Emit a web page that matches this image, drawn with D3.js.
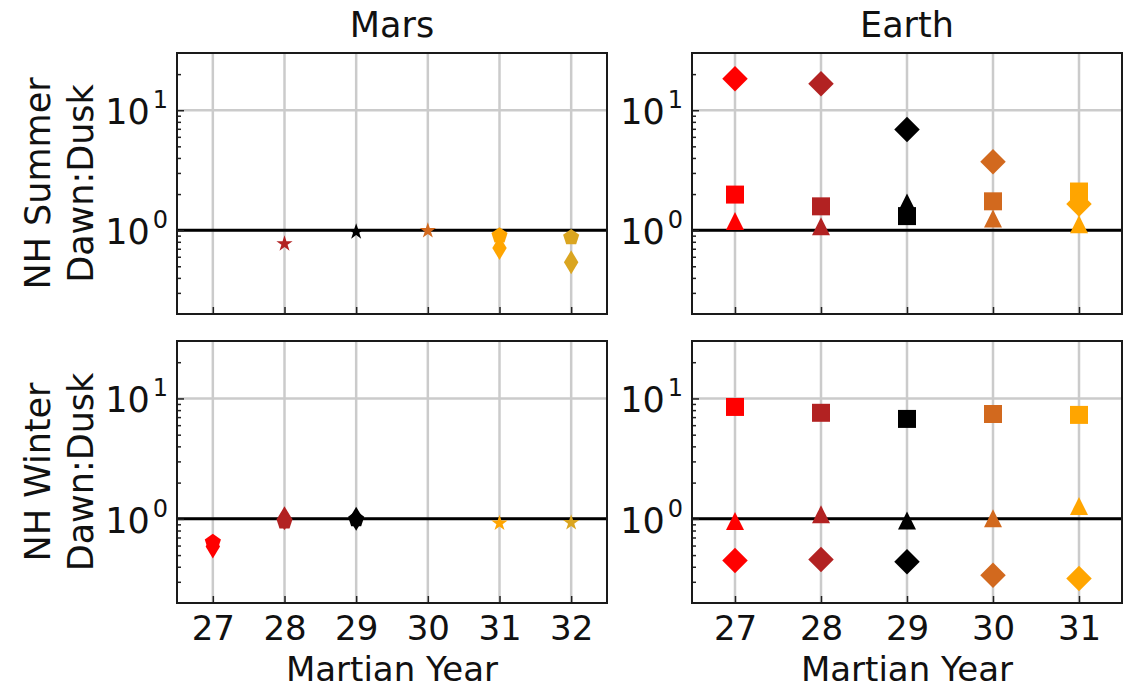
<!DOCTYPE html>
<html>
<head>
<meta charset="utf-8">
<script src="https://cdn.jsdelivr.net/npm/d3@7"></script>
<style>
  html, body { margin: 0; padding: 0; background: #fff; }
  svg { display: block; font-family: "DejaVu Sans", sans-serif; }
</style>
</head>
<body>
<svg id="chart" width="1135" height="690"></svg>
<script>
// Martian years on each column
const marsYears = [27, 28, 29, 30, 31, 32];
const earthYears = [27, 28, 29, 30, 31];
const marsColors = ["#ff0000", "#b22222", "#000000", "#d2691e", "#ffa500", "#daa520"];
const earthColors = ["#ff0000", "#b22222", "#000000", "#d2691e", "#ffa500"];
const yMajorTicks = [1, 10];
const yMinorTicks = [0.3, 0.4, 0.5, 0.6, 0.7, 0.8, 0.9, 2, 3, 4, 5, 6, 7, 8, 9, 20];

// Mars dawn:dusk ratios (null = no observation)
const marsSummerThinDiamond = [null, null, null, null, 0.71, 0.54];
const marsSummerPentagon    = [null, null, null, null, 0.90, 0.87];
const marsSummerStar        = [null, 0.77, 0.97, 0.99, null, null];
const marsWinterThinDiamond = [0.59, 1.01, 1.00, null, null, null];
const marsWinterPentagon    = [0.64, 0.95, 0.99, null, null, null];
const marsWinterStar        = [null, null, null, null, 0.92, 0.93];

// Earth dawn:dusk ratios
const earthSummerTriangle = [1.19, 1.08, 1.70, 1.25, 1.12];
const earthSummerSquare   = [1.98, 1.58, 1.31, 1.74, 2.10];
const earthSummerDiamond  = [18.3, 16.6, 6.9, 3.72, 1.65];
const earthWinterTriangle = [0.96, 1.09, 0.97, 1.01, 1.28];
const earthWinterSquare   = [8.5, 7.6, 6.76, 7.43, 7.3];
const earthWinterDiamond  = [0.45, 0.46, 0.44, 0.34, 0.32];

const svg = d3.select("#chart");

const cols = [
  { x0: 177, x1: 607, domain: [26.5, 32.5], years: marsYears, colors: marsColors, size: 17, title: "Mars" },
  { x0: 692, x1: 1122, domain: [26.5, 31.5], years: earthYears, colors: earthColors, size: 18, title: "Earth" }
];
const rows = [
  { y0: 53, y1: 314, label: ["NH Summer", "Dawn:Dusk"] },
  { y0: 341, y1: 603, label: ["NH Winter", "Dawn:Dusk"] }
];

// series per panel [row][col], drawn in order
const panelSeries = [
  [
    [ { shape: "thin", v: marsSummerThinDiamond }, { shape: "pentagon", v: marsSummerPentagon }, { shape: "star", v: marsSummerStar } ],
    [ { shape: "triangle", v: earthSummerTriangle }, { shape: "square", v: earthSummerSquare }, { shape: "diamond", v: earthSummerDiamond } ]
  ],
  [
    [ { shape: "thin", v: marsWinterThinDiamond }, { shape: "pentagon", v: marsWinterPentagon }, { shape: "star", v: marsWinterStar } ],
    [ { shape: "triangle", v: earthWinterTriangle }, { shape: "square", v: earthWinterSquare }, { shape: "diamond", v: earthWinterDiamond } ]
  ]
];

function polygon(pts) {
  return "M" + pts.map(p => p[0].toFixed(2) + "," + p[1].toFixed(2)).join("L") + "Z";
}

// marker outlines sized like matplotlib markers of width w
function markerPath(shape, w) {
  const h = w / 2;
  const r = w * Math.SQRT1_2;
  switch (shape) {
    case "square":   return polygon([[-h, -h], [h, -h], [h, h], [-h, h]]);
    case "diamond":  return polygon([[0, -r], [r, 0], [0, r], [-r, 0]]);
    case "thin":     return polygon([[0, -r], [0.6 * r, 0], [0, r], [-0.6 * r, 0]]);
    case "triangle": return polygon([[0, -h], [h, h], [-h, h]]);
    case "pentagon": {
      const pts = d3.range(5).map(i => {
        const a = -Math.PI / 2 + i * 2 * Math.PI / 5;
        return [h * Math.cos(a), h * Math.sin(a)];
      });
      return polygon(pts);
    }
    case "star": {
      const pts = d3.range(10).map(i => {
        const a = -Math.PI / 2 + i * Math.PI / 5;
        const rad = i % 2 === 0 ? h : h * 0.381966;
        return [rad * Math.cos(a), rad * Math.sin(a)];
      });
      return polygon(pts);
    }
  }
}

rows.forEach((row, ri) => {
  cols.forEach((col, ci) => {
    const x = d3.scaleLinear().domain(col.domain).range([col.x0, col.x1]);
    const y = d3.scaleLog().domain([0.2, 30]).range([row.y1, row.y0]);
    const g = svg.append("g");

    // grid
    g.append("g").selectAll("line").data(col.years).join("line")
      .attr("x1", d => x(d)).attr("x2", d => x(d))
      .attr("y1", row.y0).attr("y2", row.y1)
      .attr("stroke", "#cbcbcb").attr("stroke-width", 2.5);
    g.append("g").selectAll("line").data(yMajorTicks).join("line")
      .attr("x1", col.x0).attr("x2", col.x1)
      .attr("y1", d => y(d)).attr("y2", d => y(d))
      .attr("stroke", "#cbcbcb").attr("stroke-width", 2.5);

    // reference ratio of 1
    g.append("line")
      .attr("x1", col.x0).attr("x2", col.x1)
      .attr("y1", y(1)).attr("y2", y(1))
      .attr("stroke", "#000").attr("stroke-width", 3);

    // markers
    panelSeries[ri][ci].forEach(s => {
      const pts = col.years.map((yr, i) => ({ yr, val: s.v[i], color: col.colors[i] }))
        .filter(d => d.val != null);
      g.append("g").selectAll("path").data(pts).join("path")
        .attr("d", markerPath(s.shape, col.size))
        .attr("transform", d => `translate(${x(d.yr)},${y(d.val)})`)
        .attr("fill", d => d.color);
    });

    // ticks
    const yMajor = d3.axisLeft(y).tickValues(yMajorTicks).tickSize(-7).tickFormat("");
    const yMinor = d3.axisLeft(y).tickValues(yMinorTicks).tickSize(-4).tickFormat("");
    const ga = g.append("g").attr("transform", `translate(${col.x0},0)`).call(yMajor);
    const gm = g.append("g").attr("transform", `translate(${col.x0},0)`).call(yMinor);
    [ga, gm].forEach(a => {
      a.select(".domain").remove();
      a.selectAll("line").attr("stroke", "#222").attr("stroke-width", 1.5);
    });

    const xAxis = d3.axisBottom(x).tickValues(col.years).tickSize(-7).tickPadding(13)
      .tickFormat(ri === 1 ? d3.format("d") : () => "");
    const gx = g.append("g").attr("transform", `translate(0,${row.y1})`).call(xAxis);
    gx.select(".domain").remove();
    gx.selectAll("line").attr("stroke", "#222").attr("stroke-width", 1.5);
    gx.selectAll("text").attr("font-size", 34).attr("fill", "#111")
      .attr("font-family", "DejaVu Sans");

    // y tick labels as powers of ten
    yMajorTicks.forEach(v => {
      const t = g.append("text")
        .attr("x", col.x0 - 9)
        .attr("y", y(v) + 14)
        .attr("text-anchor", "end")
        .attr("fill", "#111")
        .attr("font-size", 35);
      t.append("tspan").text("10");
      t.append("tspan").attr("dx", 3).attr("dy", -16).attr("font-size", 24)
        .text(String(Math.round(Math.log10(v))));
    });

    // frame
    g.append("rect")
      .attr("x", col.x0).attr("y", row.y0)
      .attr("width", col.x1 - col.x0).attr("height", row.y1 - row.y0)
      .attr("fill", "none").attr("stroke", "#1a1a1a").attr("stroke-width", 2);

    if (ri === 0) {
      svg.append("text")
        .attr("x", (col.x0 + col.x1) / 2).attr("y", 37)
        .attr("text-anchor", "middle").attr("font-size", 35).attr("fill", "#111")
        .text(col.title);
    }
    if (ri === 1) {
      svg.append("text")
        .attr("x", (col.x0 + col.x1) / 2).attr("y", 681)
        .attr("text-anchor", "middle").attr("font-size", 34).attr("fill", "#111")
        .text("Martian Year");
    }
  });

  // row label, two lines rotated
  const cy = (row.y0 + row.y1) / 2;
  [50, 93].forEach((bx, li) => {
    svg.append("text")
      .attr("transform", `translate(${bx},${cy}) rotate(-90)`)
      .attr("text-anchor", "middle").attr("font-size", 35).attr("fill", "#111")
      .text(row.label[li]);
  });
});
</script>
</body>
</html>
